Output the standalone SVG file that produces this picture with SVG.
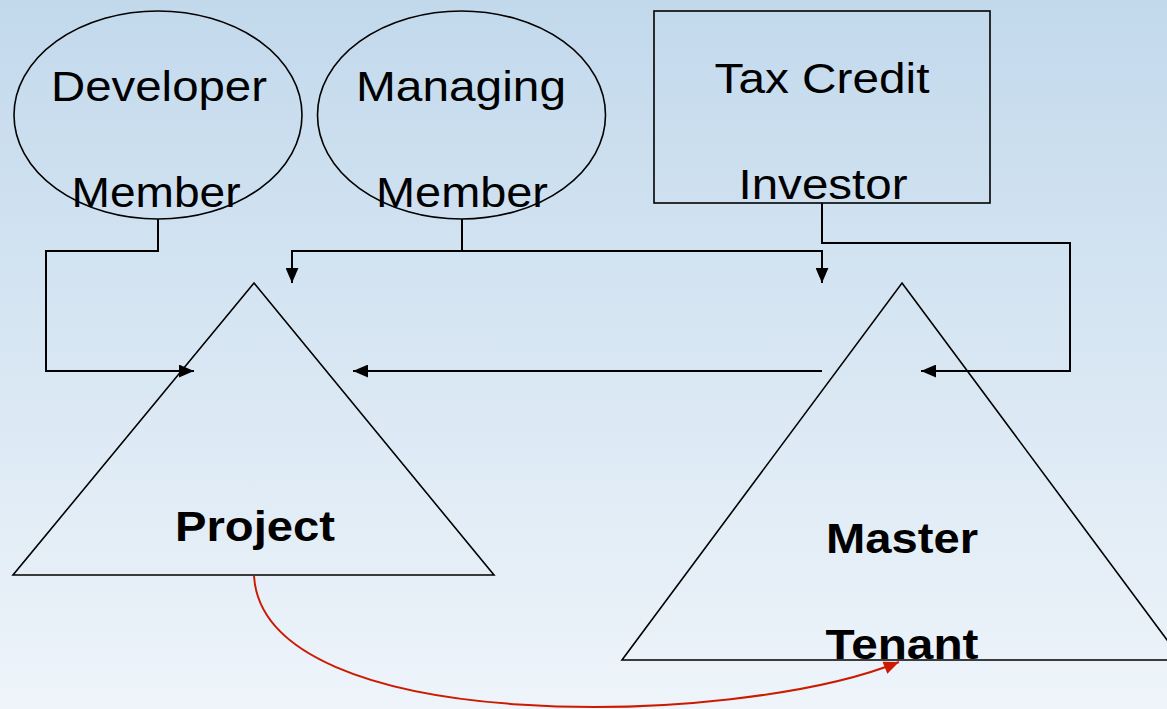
<svg xmlns="http://www.w3.org/2000/svg" width="1167" height="709" viewBox="0 0 1167 709">
<defs>
<linearGradient id="bg" x1="0" y1="0" x2="0" y2="1">
<stop offset="0" stop-color="#c2d9ec"/>
<stop offset="1" stop-color="#eef4fa"/>
</linearGradient>
<marker id="ah" viewBox="0 0 14 12" refX="14" refY="6" markerWidth="15" markerHeight="13" markerUnits="userSpaceOnUse" orient="auto">
<path d="M0,0 L14,6 L0,12 Z" fill="#000"/>
</marker>
<marker id="ahr" viewBox="0 0 14 12" refX="14" refY="6" markerWidth="16" markerHeight="13" markerUnits="userSpaceOnUse" orient="auto">
<path d="M0,0 L14,6 L0,12 Z" fill="#cc1a00"/>
</marker>
</defs>
<style>
.shape{fill:none;stroke:#000;stroke-width:1.6}
.t{font-family:"Liberation Sans",Arial,sans-serif;font-size:42px;fill:#000;text-anchor:middle}
.b{font-weight:bold;font-size:42px}
.c{fill:none;stroke:#000;stroke-width:2}
</style>
<rect width="1167" height="709" fill="url(#bg)"/>
<g id="developer-member">
<ellipse class="shape" cx="158" cy="115" rx="144" ry="104"/>
<text class="t" x="159" y="101" textLength="216" lengthAdjust="spacingAndGlyphs">Developer</text>
<text class="t" x="156" y="207" textLength="169" lengthAdjust="spacingAndGlyphs">Member</text>
</g>
<g id="managing-member">
<ellipse class="shape" cx="461.5" cy="115" rx="144" ry="104"/>
<text class="t" x="461" y="101" textLength="210" lengthAdjust="spacingAndGlyphs">Managing</text>
<text class="t" x="462" y="207" textLength="172" lengthAdjust="spacingAndGlyphs">Member</text>
</g>
<g id="tax-credit-investor">
<rect class="shape" x="654" y="11" width="336" height="192"/>
<text class="t" x="822" y="93" textLength="215" lengthAdjust="spacingAndGlyphs">Tax Credit</text>
<text class="t" x="823" y="199" textLength="169" lengthAdjust="spacingAndGlyphs">Investor</text>
</g>
<g id="project">
<path class="shape" d="M254,283 L494,575 L13,575 Z"/>
<text class="t b" x="255" y="541" textLength="160" lengthAdjust="spacingAndGlyphs">Project</text>
</g>
<g id="master-tenant">
<path class="shape" d="M902,283 L1182,660 L622,660 Z"/>
<text class="t b" x="902" y="553" textLength="152" lengthAdjust="spacingAndGlyphs">Master</text>
<text class="t b" x="902" y="659" textLength="153" lengthAdjust="spacingAndGlyphs">Tenant</text>
</g>
<g id="connectors">
<path class="c" d="M158,219 V251 H46 V371 H194" marker-end="url(#ah)"/>
<path class="c" d="M462,219 V251"/>
<path class="c" d="M462,251 H292 V283" marker-end="url(#ah)"/>
<path class="c" d="M462,251 H822 V283" marker-end="url(#ah)"/>
<path class="c" d="M822,203 V243 H1070 V371 H921" marker-end="url(#ah)"/>
<path class="c" d="M822,371 H353" marker-end="url(#ah)"/>
<path d="M254,576 C264,738 735,728 899,662" fill="none" stroke="#cc1a00" stroke-width="2" marker-end="url(#ahr)"/>
</g>
</svg>
